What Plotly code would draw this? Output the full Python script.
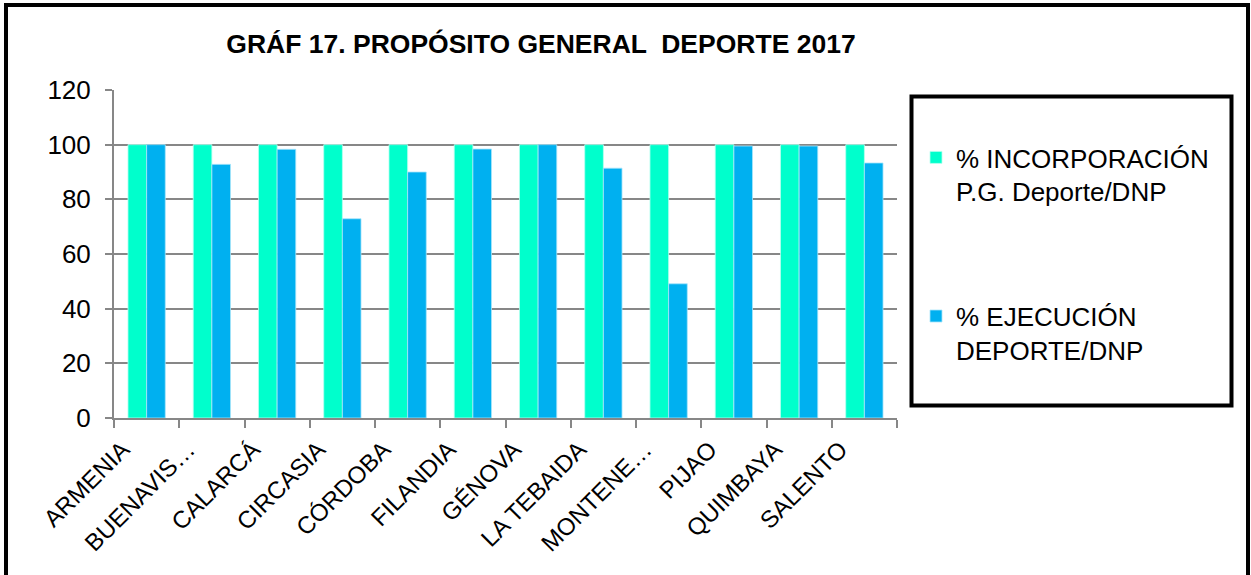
import plotly.graph_objects as go

# ---- data ----
categories = ["ARMENIA", "BUENAVIS…", "CALARCÁ", "CIRCASIA", "CÓRDOBA", "FILANDIA",
              "GÉNOVA", "LA TEBAIDA", "MONTENE…", "PIJAO", "QUIMBAYA", "SALENTO"]
incorporacion = [100, 100, 100, 100, 100, 100, 100, 100, 100, 100, 100, 100]
ejecucion = [100, 92.8, 98.3, 72.9, 90.0, 98.4, 100, 91.4, 49.1, 99.5, 99.5, 93.3]
series_names = ["% INCORPORACIÓN<br>P.G. Deporte/DNP", "% EJECUCIÓN<br>DEPORTE/DNP"]
title_text = "GRÁF 17. PROPÓSITO GENERAL \u00a0DEPORTE 2017"
y_ticks = [0, 20, 40, 60, 80, 100, 120]

# ---- layout geometry (pixels) ----
W, H = 1251, 575
L, R, T, B = 114, 897, 90, 418
pw, ph = R - L, B - T

def px(x):
    return (x - L) / pw

def py(y):
    return (B - y) / ph

FONT = "Arial, Liberation Sans, sans-serif"
GRID = "#878787"

fig = go.Figure()
fig.add_trace(go.Bar(x=categories, y=incorporacion, name=series_names[0],
                     marker=dict(color="#00FFCC", line=dict(color="#B8FFF0", width=0.8)),
                     legendgroup="a"))
fig.add_trace(go.Bar(x=categories, y=ejecucion, name=series_names[1],
                     marker=dict(color="#00B0F0", line=dict(color="#A8E4FA", width=0.8)),
                     legendgroup="b"))

fig.update_layout(
    width=W, height=H,
    margin=dict(l=L, r=W - R, t=T, b=H - B, autoexpand=False),
    paper_bgcolor="white", plot_bgcolor="white",
    barmode="group", bargap=1.5 / 3.5, bargroupgap=0,
    font=dict(family=FONT, color="black"),
    title=dict(text=title_text, font=dict(family=FONT, size=26.5, color="black", weight="bold"),
               xref="paper", x=px(541), xanchor="center",
               yref="container", y=1 - 44 / H, yanchor="middle"),
    legend=dict(x=px(916), xanchor="left", y=py(134), yanchor="top",
                bgcolor="rgba(0,0,0,0)", borderwidth=0,
                font=dict(family=FONT, size=26, color="black"),
                valign="top", traceorder="grouped", tracegroupgap=88,
                itemwidth=30),
    showlegend=True,
)

fig.update_yaxes(range=[0, 120], tickvals=y_ticks, showgrid=True, gridcolor=GRID, gridwidth=2,
                 showline=True, linecolor=GRID, linewidth=2, ticks="outside", ticklen=7,
                 tickcolor=GRID, tickwidth=2, zeroline=False,
                 tickfont=dict(family=FONT, size=26, color="black"), ticklabelstandoff=9)
fig.update_xaxes(showline=True, linecolor=GRID, linewidth=2, ticks="outside", ticklen=8,
                 tickcolor=GRID, tickwidth=2, tickson="boundaries", tickangle=-45,
                 ticklabelshift=-24, ticklabelstandoff=6,
                 tickfont=dict(family=FONT, size=24, color="black"), showgrid=False)

# outer chart border
fig.add_shape(type="rect", xref="paper", yref="paper",
              x0=px(6), x1=px(1248), y0=py(595), y1=py(5),
              line=dict(color="black", width=4), fillcolor="rgba(0,0,0,0)", layer="above")
# legend box border
fig.add_shape(type="rect", xref="paper", yref="paper",
              x0=px(911.5), x1=px(1231.5), y0=py(405.5), y1=py(96.5),
              line=dict(color="black", width=4), fillcolor="rgba(0,0,0,0)", layer="above")

fig.write_html("out.html", config={"displayModeBar": False},
               post_script="document.body.style.margin='0';document.body.style.overflow='hidden';")
